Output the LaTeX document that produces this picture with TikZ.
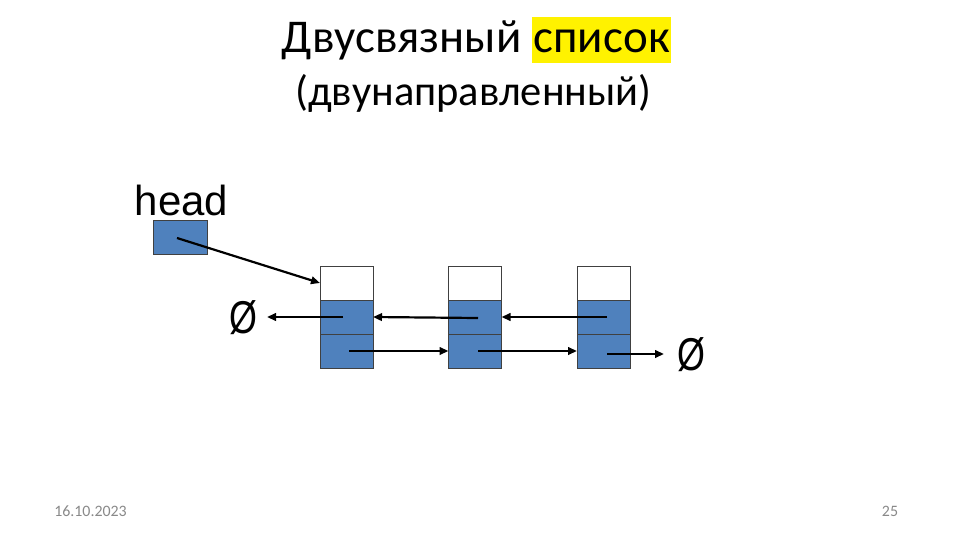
\documentclass[tikz,border=0pt]{standalone}
\usepackage{fontspec}
\setmainfont{Liberation Sans}
\newfontfamily\calfont{Carlito}
\usetikzlibrary{arrows.meta}
\definecolor{cellblue}{HTML}{4F81BD}
\definecolor{cellline}{HTML}{404040}
\definecolor{footgray}{HTML}{898989}
\newcommand\hlword[1]{{\setlength\fboxsep{0pt}\colorbox{yellow}{\rule[-11pt]{0pt}{46pt}\hspace{1.5pt}#1\hspace{1.5pt}}}}
\begin{document}
\begin{tikzpicture}[x=1pt,y=-1pt,
  cellw/.style={draw=cellline,line width=0.9pt,fill=white,minimum width=53pt,minimum height=34pt,inner sep=0pt,outer sep=0pt},
  cellb/.style={cellw,fill=cellblue},
  ptr/.style={line width=2.2pt,-{Triangle[length=9pt,width=7.5pt]}},
  nullsym/.style={font=\fontsize{46}{48}\selectfont,inner sep=0pt,xscale=0.78},
  foot/.style={font=\calfont\fontsize{15.9}{18}\selectfont,text=footgray,inner sep=0pt,anchor=base}]
\useasboundingbox (0,0) rectangle (953,533);
% titles
\node[anchor=base,inner sep=0pt,font=\calfont\fontsize{47}{50}\selectfont] (title) at (476.5,52) {Двусвязный \hlword{список}};
\node[anchor=base,inner sep=0pt,font=\calfont\fontsize{42.5}{45}\selectfont] (subtitle) at (473.5,105) {(двунаправленный)};
% head
\node[anchor=base,inner sep=0pt,font=\fontsize{42}{44}\selectfont] (headlbl) at (181.5,215) {head};
\node[cellb,minimum width=54pt] (head) at (180,237) {};
% list nodes
\foreach \i/\x in {1/346.5,2/475,3/603.5}{
  \node[cellw] (n\i a) at (\x,283) {};
  \node[cellb] (n\i b) at (\x,317) {};
  \node[cellb] (n\i c) at (\x,351) {};
}
% null symbols
\node[nullsym] (nullL) at (243,318) {Ø};
\node[nullsym] (nullR) at (691,355) {Ø};
\coordinate (nullLend) at (267,317);
\coordinate (nullRend) at (664,354);
% pointers
\draw[ptr] ([xshift=-3pt,yshift=-1pt]head.center) -- (n1a.west);
\draw[ptr] ([xshift=-3.5pt]n1b.center) -- (nullLend);
\draw[ptr] ([xshift=3pt,yshift=-1pt]n2b.center) -- (n1b.east);
\draw[ptr] ([xshift=3.5pt]n3b.center) -- (n2b.east);
\draw[ptr] ([xshift=2.5pt]n1c.center) -- (n2c.west);
\draw[ptr] ([xshift=3pt]n2c.center) -- (n3c.west);
\draw[ptr] ([xshift=3.5pt,yshift=-3pt]n3c.center) -- (nullRend);
% footer
\node[foot] (date) at (90.5,516) {16.10.2023};
\node[foot] (page) at (890,516) {25};
\end{tikzpicture}
\end{document}
